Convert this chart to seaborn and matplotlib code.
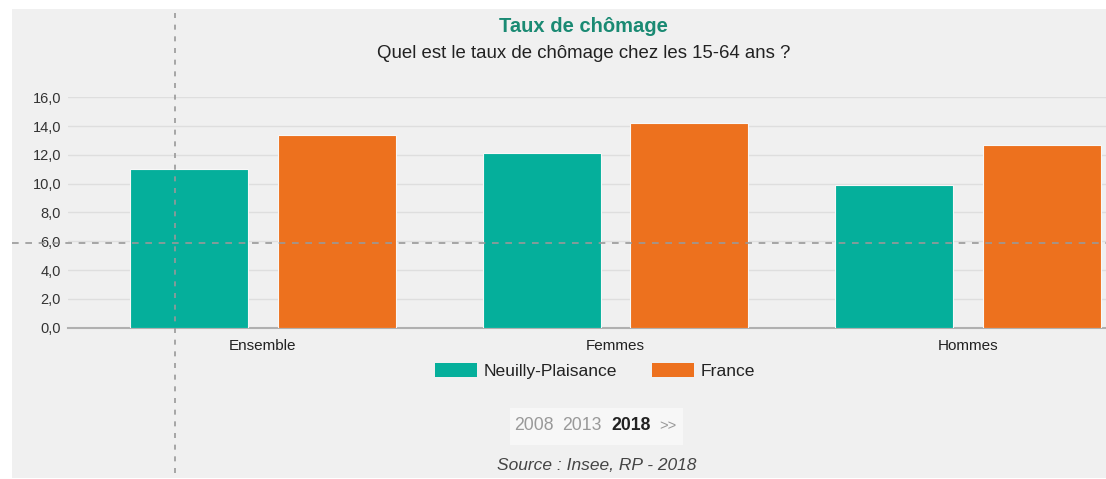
import matplotlib
matplotlib.use("Agg")
import matplotlib.pyplot as plt
from matplotlib.patches import Rectangle, Patch
from matplotlib.lines import Line2D
from matplotlib.ticker import FuncFormatter, MultipleLocator
import seaborn as sns
import pandas as pd

categories = ["Ensemble", "Femmes", "Hommes"]
neuilly = [11.0, 12.1, 9.9]
france = [13.4, 14.2, 12.7]
series_names = ["Neuilly-Plaisance", "France"]
years = ["2008", "2013", "2018", ">>"]

TEAL = "#05AF9B"
ORANGE = "#ED711E"
BG = "#f0f0f0"

sns.set_theme(style="white")
plt.rcParams["font.family"] = ["Liberation Sans", "DejaVu Sans"]

W, H = 1106, 479
fig = plt.figure(figsize=(W / 100, H / 100), dpi=100, facecolor="white")

def fx(px):
    return px / W

def fy(py):
    return 1 - py / H

# grey panel
fig.patches.append(Rectangle((fx(12), fy(478)), fx(1106) - fx(12), fy(9) - fy(478),
                             transform=fig.transFigure, facecolor=BG, edgecolor="none", zorder=-2))

df = pd.DataFrame({
    "cat": categories * 2,
    "val": neuilly + france,
    "zone": [series_names[0]] * 3 + [series_names[1]] * 3,
})

ax = fig.add_axes([fx(68), fy(327.7), fx(1106) - fx(68), fy(97.3) - fy(327.7)])
ax.set_facecolor("none")
ax.set_zorder(1)
sns.barplot(data=df, x="cat", y="val", hue="zone", palette=[TEAL, ORANGE],
            width=0.836, gap=0.2, ax=ax, legend=False, saturation=1, zorder=3,
            edgecolor="#f8f8f8", linewidth=0.8)

ax.set_xlim(-0.553, 2.391)
ax.set_ylim(0, 16)
ax.yaxis.set_major_locator(MultipleLocator(2))
ax.yaxis.set_major_formatter(FuncFormatter(lambda v, p: f"{v:.1f}".replace(".", ",")))
ax.grid(axis="y", color="#dedede", linewidth=1, zorder=0)
ax.set_axisbelow(True)
for s in ["top", "right", "left"]:
    ax.spines[s].set_visible(False)
ax.spines["bottom"].set_color("#b0b0b0")
ax.spines["bottom"].set_linewidth(1.5)
ax.set_xlabel("")
ax.set_ylabel("")
ax.tick_params(axis="y", length=0, pad=5, labelsize=10.5, labelcolor="#333333")
ax.tick_params(axis="x", length=4, width=0.8, color="#cccccc", pad=4, labelsize=11, labelcolor="#222222")

# Legend
handles = [Patch(facecolor=TEAL, edgecolor="none"), Patch(facecolor=ORANGE, edgecolor="none")]
fig.legend(handles, series_names, loc="center", bbox_to_anchor=(fx(595), fy(371)),
           ncol=2, frameon=False, fontsize=12.6, handlelength=2.4, handleheight=0.9,
           handletextpad=0.4, columnspacing=2.0, labelcolor="#222222")

# Titles
fig.text(fx(583), fy(26), "Taux de chômage", ha="center", va="center",
         fontsize=14.5, fontweight="bold", color="#1a8a73")
fig.text(fx(584), fy(54), "Quel est le taux de chômage chez les 15-64 ans ?", ha="center",
         va="center", fontsize=13.4, color="#222222")

# Year selector
fig.patches.append(Rectangle((fx(510), fy(445)), fx(683) - fx(510), fy(408) - fy(445),
                             transform=fig.transFigure, facecolor="#f7f7f7", edgecolor="none", zorder=-1))
year_x = [534, 582, 631, 668]
for yx, label in zip(year_x, years):
    bold = label == "2018"
    fig.text(fx(yx), fy(426), label, ha="center", va="center",
             fontsize=12.7 if label != ">>" else 10.5,
             fontweight="bold" if bold else "normal",
             color="#222222" if bold else "#999999", zorder=2)

fig.text(fx(597), fy(465), "Source : Insee, RP - 2018", ha="center", va="center",
         fontsize=12.5, style="italic", color="#444444")

# crosshair artefacts
fig.lines.append(Line2D([fx(175), fx(175)], [fy(13), fy(478)], transform=fig.transFigure,
                        color="#999999", linewidth=1.2, linestyle=(0, (3, 4)), zorder=5))
fig.lines.append(Line2D([fx(12), fx(1106)], [fy(243), fy(243)], transform=fig.transFigure,
                        color="#999999", linewidth=1.2, linestyle=(0, (4, 4)), zorder=5))

fig.savefig("out.png", dpi=100, facecolor="white")
